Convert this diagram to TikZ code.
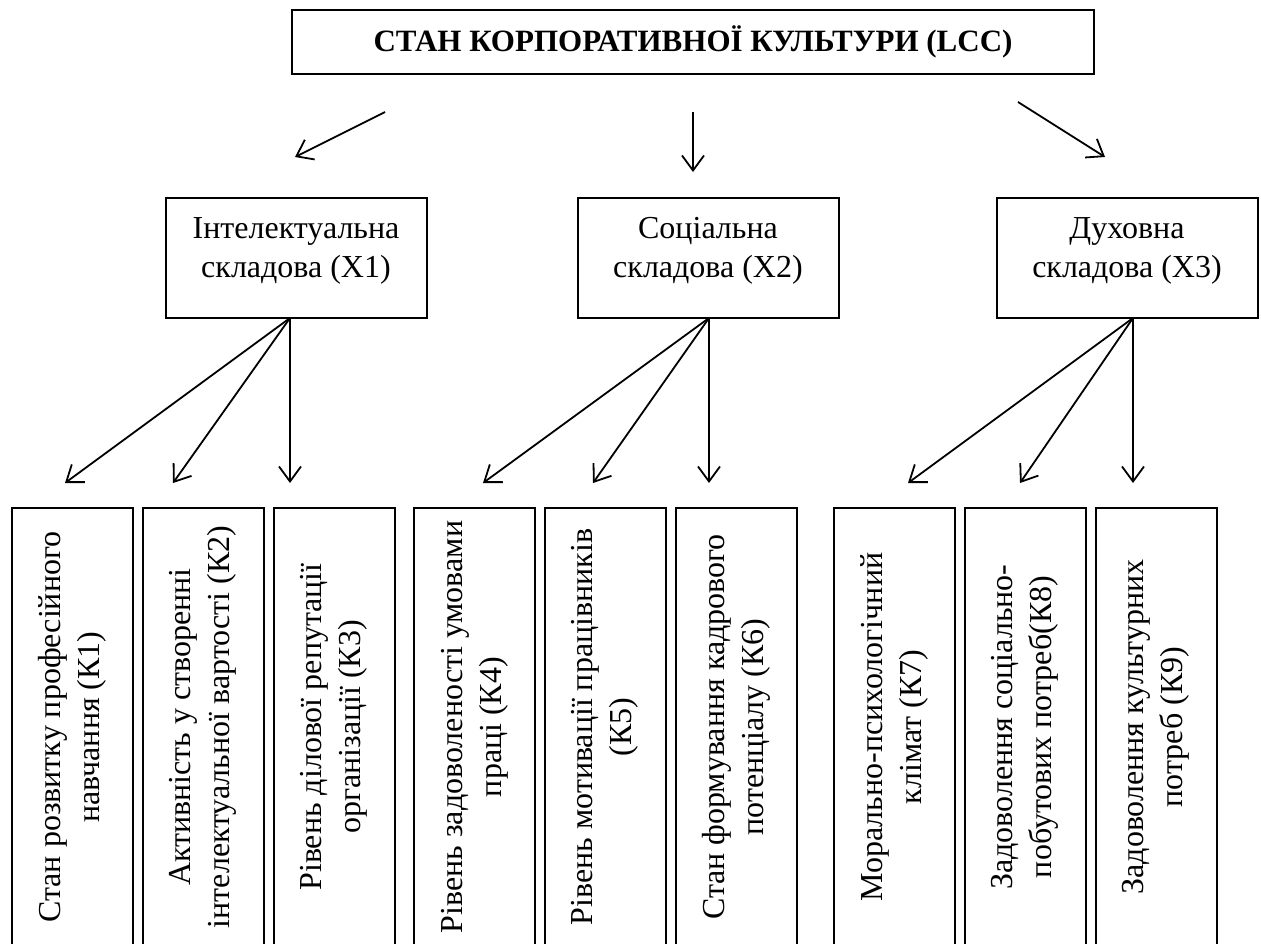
\documentclass[tikz,border=0pt]{standalone}
\usepackage{fontspec}
\setmainfont{Liberation Serif}
\usetikzlibrary{arrows.meta}
\begin{document}
\begin{tikzpicture}[x=1pt,y=-1pt,
  every node/.style={font=\fontsize{32}{39}\selectfont},
  frame/.style={draw, line width=2pt, inner sep=0pt},
  mainbox/.style={frame, minimum width=802pt, minimum height=64pt, font=\bfseries\fontsize{31}{36}\selectfont},
  compbox/.style={frame, minimum width=261pt, minimum height=120pt},
  comptext/.style={align=center, inner sep=0pt},
  kbox/.style={frame, rotate=90, minimum width=438pt, minimum height=121pt, align=center},
  conn/.style={line width=1.8pt, -{Straight Barb[length=15pt,width=22pt]}}]
\clip (0,0) rectangle (1261,943);
\fill[white] (0,0) rectangle (1261,943);

% top box
\node[mainbox] (lcc) at (693,42) {СТАН КОРПОРАТИВНОЇ КУЛЬТУРИ (LCC)};

% component boxes
\node[compbox] (x1) at (296.5,258) {};
\node[compbox] (x2) at (708,258) {};
\node[compbox] (x3) at (1127.5,258) {};
\node[comptext] (x1t) at (296,251) {Інтелектуальна\\складова (X1)};
\node[comptext] (x2t) at (708,251) {Соціальна\\складова (X2)};
\node[comptext] (x3t) at (1127,251) {Духовна\\складова (X3)};

% indicator boxes
\node[kbox] (k1) at (72,727) {Стан розвитку професійного\\навчання (К1)};
\node[kbox] (k2) at (203,727) {Активність у створенні\\інтелектуальної вартості (К2)};
\node[kbox] (k3) at (334,727) {Рівень ділової репутації\\організації (К3)};
\node[kbox] (k4) at (474.5,727) {Рівень задоволеності умовами\\праці (К4)};
\node[kbox] (k5) at (605,727) {Рівень мотивації працівників\\(К5)};
\node[kbox] (k6) at (736,727) {Стан формування кадрового\\потенціалу (К6)};
\node[kbox] (k7) at (894,727) {Морально-психологічний\\клімат (К7)};
\node[kbox] (k8) at (1025,727) {Задоволення соціально-\\побутових потреб(К8)};
\node[kbox] (k9) at (1156,727) {Задоволення культурних\\потреб (К9)};

% arrow end points
\coordinate (a1s) at (385,112); \coordinate (a1e) at (295,157);
\coordinate (a2s) at (693,112); \coordinate (a2e) at (693,172);
\coordinate (a3s) at (1018,102); \coordinate (a3e) at (1105,157);

\coordinate (o1) at (290,318);
\coordinate (o2) at (709,318);
\coordinate (o3) at (1133,318);
\coordinate (e1) at (65,483);  \coordinate (e2) at (173,483);  \coordinate (e3) at (290,483);
\coordinate (e4) at (483,483); \coordinate (e5) at (593,483);  \coordinate (e6) at (709,483);
\coordinate (e7) at (908,483); \coordinate (e8) at (1020,483); \coordinate (e9) at (1133,483);

\draw[conn] (a1s) -- (a1e);
\draw[conn] (a2s) -- (a2e);
\draw[conn] (a3s) -- (a3e);

\draw[conn] (o1) -- (e1);
\draw[conn] (o1) -- (e2);
\draw[conn] (o1) -- (e3);
\draw[conn] (o2) -- (e4);
\draw[conn] (o2) -- (e5);
\draw[conn] (o2) -- (e6);
\draw[conn] (o3) -- (e7);
\draw[conn] (o3) -- (e8);
\draw[conn] (o3) -- (e9);
\end{tikzpicture}
\end{document}
